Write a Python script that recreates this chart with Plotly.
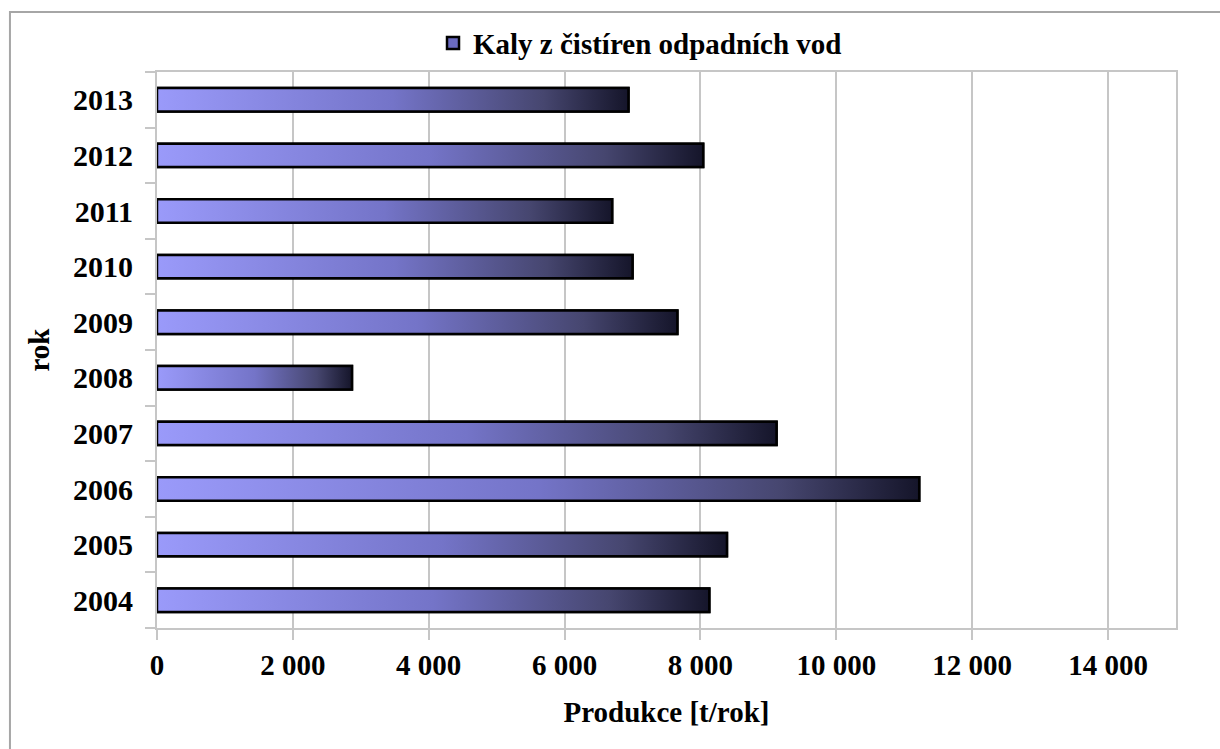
import plotly.graph_objects as go

years = ["2004", "2005", "2006", "2007", "2008", "2009", "2010", "2011", "2012", "2013"]
values = [8130, 8390, 11220, 9120, 2870, 7660, 7000, 6700, 8040, 6940]
series_name = "Kaly z čistíren odpadních vod"
x_title = "Produkce [t/rok]"
y_title = "rok"
x_ticks = [0, 2000, 4000, 6000, 8000, 10000, 12000, 14000]

FONT = "Liberation Serif, Times New Roman, serif"
GRID = "#c6c6c6"
half = 0.21
idx = list(range(len(years)))

fig = go.Figure()

# base bars (carry the data and legend)
fig.add_trace(go.Bar(
    x=values, y=idx, orientation="h", width=2 * half,
    name=series_name,
    marker=dict(color="#6a6ac0", line=dict(color="black", width=2.5)),
    showlegend=True,
))

# gradient overlay per bar, built from the same values
for i, v in zip(idx, values):
    fig.add_trace(go.Scatter(
        x=[0, v, v, 0, 0],
        y=[i - half, i - half, i + half, i + half, i - half],
        mode="lines", fill="toself",
        line=dict(color="black", width=2.5),
        fillgradient=dict(type="horizontal",
                          colorscale=[[0, "#9a9afa"], [0.5, "#7474c8"],
                                      [0.82, "#46466f"], [1, "#15152a"]]),
        showlegend=False, hoverinfo="skip",
    ))

fig.update_layout(
    width=1220, height=749,
    margin=dict(l=157, r=44, t=72, b=121),
    paper_bgcolor="white", plot_bgcolor="white",
    separators=", ",
    font=dict(family=FONT, size=29, color="black"),
    legend=dict(orientation="h", x=0.474, xanchor="center", y=1.052, yanchor="middle",
                font=dict(family=FONT, size=29, color="black", weight="bold"),
                bgcolor="rgba(0,0,0,0)", itemwidth=30),
    showlegend=True,
    shapes=[dict(type="rect", xref="paper", yref="paper",
                 x0=-0.1443, x1=1.06, y0=-0.25, y1=1.1079,
                 line=dict(color="#a6a6a6", width=2), layer="below")],
)

fig.update_xaxes(
    range=[0, 15000], tickvals=x_ticks, tickformat=",d",
    showgrid=True, gridcolor=GRID, gridwidth=2,
    showline=True, linecolor=GRID, linewidth=2, mirror=True,
    ticks="outside", ticklen=10, tickcolor=GRID, tickwidth=2,
    tickfont=dict(family=FONT, size=29, color="black", weight="bold"),
    title=dict(text=x_title, font=dict(family=FONT, size=29, color="black", weight="bold"),
               standoff=22),
    zeroline=False,
)

fig.update_yaxes(
    type="linear", range=[-0.5, len(years) - 0.5],
    tickvals=idx, ticktext=years,
    showgrid=False, zeroline=False,
    showline=True, linecolor=GRID, linewidth=2, mirror=True,
    ticks="", ticklen=0,
    minor=dict(tickvals=[k - 0.5 for k in range(len(years) + 1)], ticks="outside",
               ticklen=10, tickcolor=GRID, tickwidth=2, showgrid=False),
    tickfont=dict(family=FONT, size=30, color="black", weight="bold"),
    ticklabelstandoff=16,
    title=dict(text=y_title, font=dict(family=FONT, size=29, color="black", weight="bold"),
               standoff=15),
)

fig.write_html("out.html", config={"displayModeBar": False},
               post_script="document.body.style.margin='0px';")
